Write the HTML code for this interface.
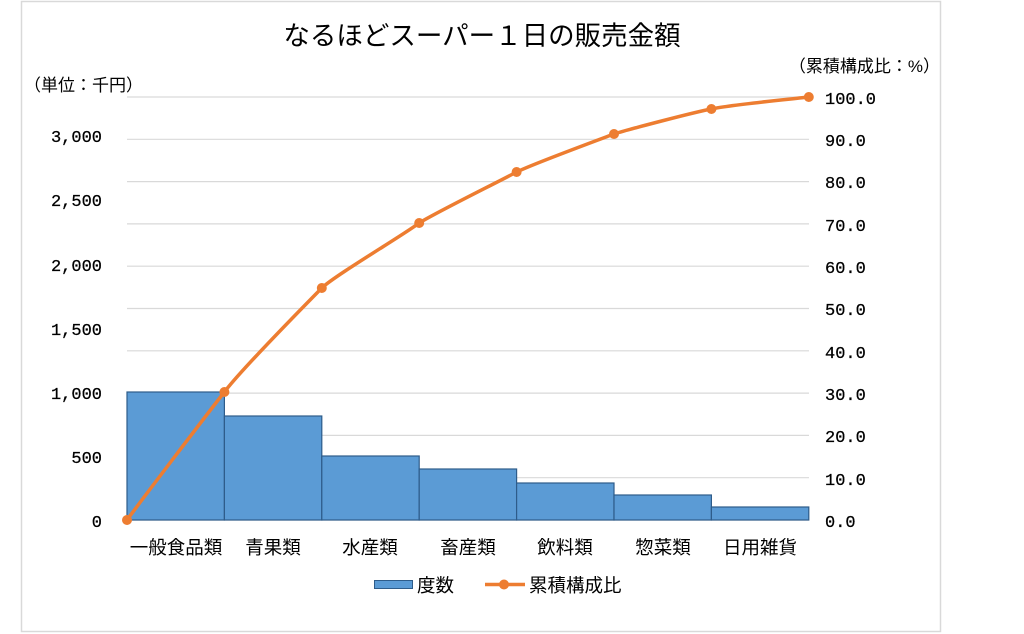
<!DOCTYPE html>
<html><head><meta charset="utf-8"><style>
html,body{margin:0;padding:0;background:#fff;}
svg{display:block}
.j{font-family:"Liberation Sans","Noto Sans CJK JP",sans-serif;fill:#000}
.n{font-family:"Liberation Mono","Noto Sans CJK JP",monospace;font-size:17px;fill:#000;stroke:#000;stroke-width:0.25}
</style></head><body>
<svg width="1024" height="634" xmlns="http://www.w3.org/2000/svg">
<rect x="21.5" y="1.5" width="919" height="630" fill="#fff" stroke="#d9d9d9" stroke-width="1.5"/>
<text class="j" x="482" y="45" font-size="26.5" text-anchor="middle">なるほどスーパー１日の販売金額</text>
<text class="j" x="24" y="91" font-size="17">（単位：千円）</text>
<text class="j" x="940" y="72" font-size="17" text-anchor="end">（累積構成比：%）</text>
<g stroke="#d9d9d9" stroke-width="1.2">
<line x1="127" x2="809" y1="97" y2="97"/><line x1="127" x2="809" y1="139.3" y2="139.3"/>
<line x1="127" x2="809" y1="181.6" y2="181.6"/><line x1="127" x2="809" y1="223.9" y2="223.9"/>
<line x1="127" x2="809" y1="266.2" y2="266.2"/><line x1="127" x2="809" y1="308.5" y2="308.5"/>
<line x1="127" x2="809" y1="350.8" y2="350.8"/><line x1="127" x2="809" y1="393.1" y2="393.1"/>
<line x1="127" x2="809" y1="435.4" y2="435.4"/><line x1="127" x2="809" y1="477.7" y2="477.7"/>
<line x1="127" x2="809" y1="520" y2="520"/>
</g>
<g class="n" text-anchor="end">
<text x="102" y="142">3,000</text><text x="102" y="206">2,500</text><text x="102" y="271">2,000</text>
<text x="102" y="335">1,500</text><text x="102" y="399">1,000</text><text x="102" y="463">500</text>
<text x="102" y="527">0</text>
</g>
<g class="n">
<text x="825" y="104">100.0</text><text x="825" y="146">90.0</text><text x="825" y="188">80.0</text>
<text x="825" y="231">70.0</text><text x="825" y="273">60.0</text><text x="825" y="315">50.0</text>
<text x="825" y="358">40.0</text><text x="825" y="400">30.0</text><text x="825" y="442">20.0</text>
<text x="825" y="485">10.0</text><text x="825" y="527">0.0</text>
</g>
<g fill="#5b9bd5" stroke="#2e5c8a" stroke-width="1.2">
<rect x="127" y="392" width="97.4" height="128"/>
<rect x="224.4" y="416" width="97.4" height="104"/>
<rect x="321.8" y="456" width="97.4" height="64"/>
<rect x="419.2" y="469" width="97.4" height="51"/>
<rect x="516.6" y="483" width="97.4" height="37"/>
<rect x="614" y="495" width="97.4" height="25"/>
<rect x="711.4" y="507" width="97.4" height="13"/>
</g>
<path d="M127,520 C143,498 208,413 224.4,392 C240,371 310,300 321.8,288 C334,276 405,234 419.2,223 C435,213 500,181 516.6,172 C533,164 598,140 614,134 C630,129 695,112 711.4,109 C728,105 792,99 808.8,97" fill="none" stroke="#ed7d31" stroke-width="3.5"/>
<g fill="#ed7d31">
<circle cx="127" cy="520" r="5"/><circle cx="224.4" cy="392" r="5"/><circle cx="321.8" cy="288" r="5"/>
<circle cx="419.2" cy="223" r="5"/><circle cx="516.6" cy="172" r="5"/><circle cx="614" cy="134" r="5"/>
<circle cx="711.4" cy="109" r="5"/><circle cx="808.8" cy="97" r="5"/>
</g>
<g class="j" font-size="18.5" text-anchor="middle">
<text x="176" y="554">一般食品類</text><text x="273" y="554">青果類</text><text x="370" y="554">水産類</text>
<text x="468" y="554">畜産類</text><text x="565" y="554">飲料類</text><text x="663" y="554">惣菜類</text>
<text x="760" y="554">日用雑貨</text>
</g>
<rect x="374.5" y="580.5" width="38" height="8" fill="#5b9bd5" stroke="#2e5c8a"/>
<text class="j" x="417" y="592" font-size="18.5">度数</text>
<line x1="485" x2="525" y1="584.5" y2="584.5" stroke="#ed7d31" stroke-width="3.5"/>
<circle cx="504" cy="584.5" r="5" fill="#ed7d31"/>
<text class="j" x="529" y="592" font-size="18.5">累積構成比</text>
</svg>
</body></html>
